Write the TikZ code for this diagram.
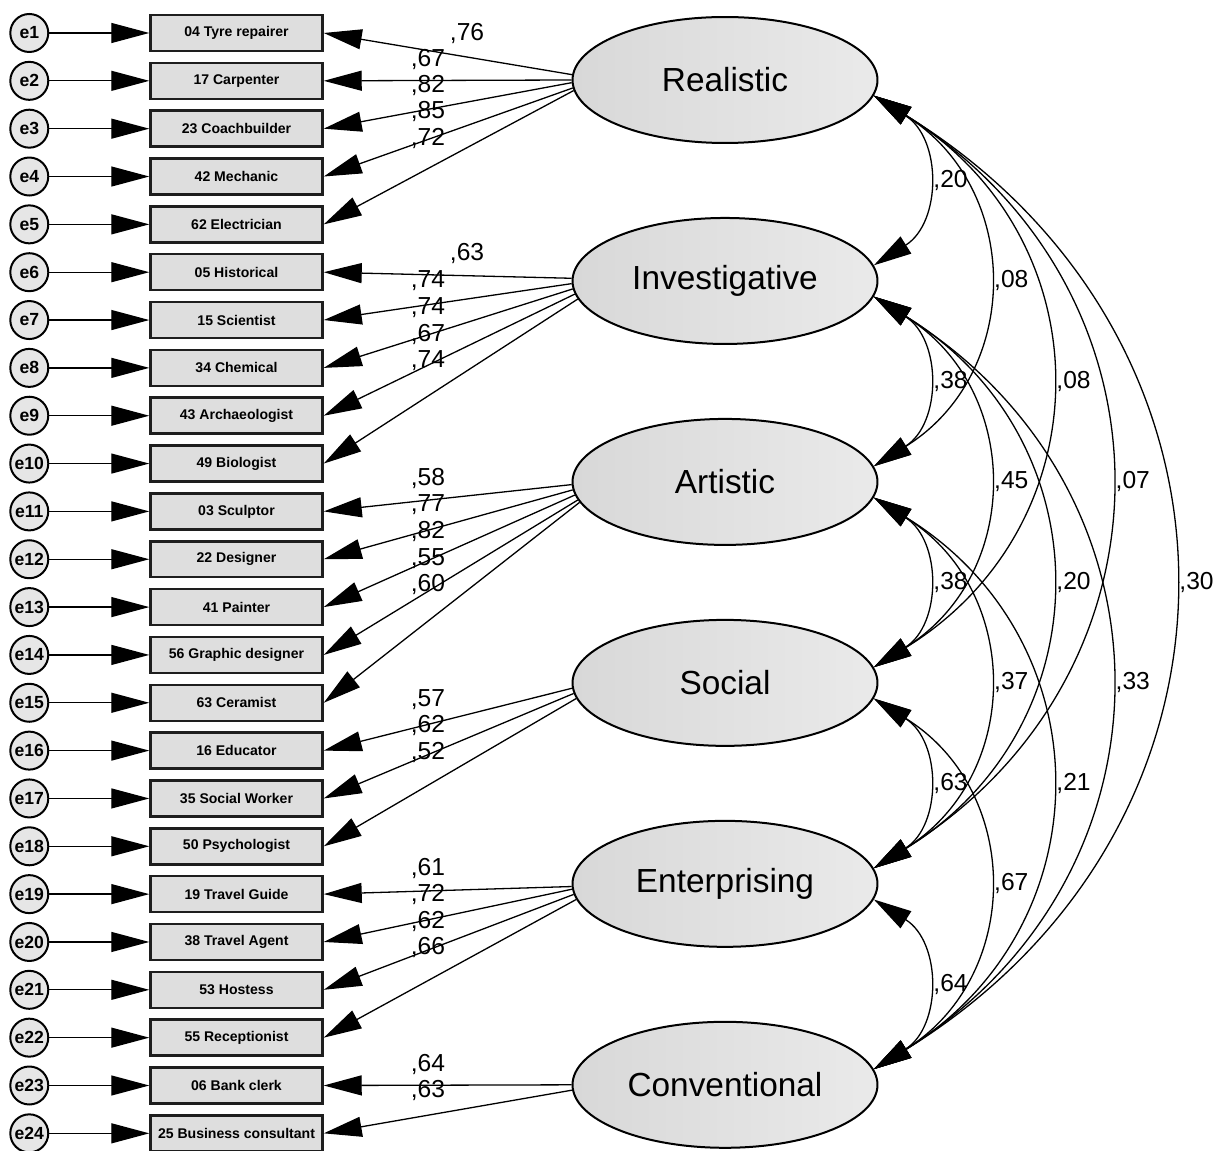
\documentclass[tikz,border=0pt]{standalone}
\usepackage{fontspec}
\setmainfont{Liberation Sans}
\usetikzlibrary{positioning, arrows.meta, shapes.geometric}
\definecolor{AmosBlack}{RGB}{0, 0, 0}
\definecolor{AmosDark}{RGB}{30, 30, 30}
\definecolor{AmosBoxGray}{RGB}{222, 222, 222}
\definecolor{AmosLatentDark}{RGB}{216, 216, 216}
\definecolor{AmosLatentLight}{RGB}{234, 234, 234}
\definecolor{AmosErrorGray}{RGB}{230, 230, 230}

\begin{document}
\begin{tikzpicture}[
    % Global Styles
    x=0.02cm, y=-0.02cm,
    node distance=0.187cm,
    item/.style={
        rectangle,
        draw=AmosDark,         % heavy frame
        line width=0.05cm,
        fill=AmosBoxGray,
        minimum width=3.44cm,
        minimum height=0.72cm,
        inner sep=0pt,
        font=\fontsize{8}{9}\selectfont\bfseries
    },
    latent/.style={
        ellipse,
        draw=AmosBlack,
        line width=0.04cm,
        left color=AmosLatentDark,   % soft grey gradient
        right color=AmosLatentLight,
        minimum width=6.1cm,
        minimum height=2.52cm,
        font=\fontsize{19}{22}\selectfont
    },
    err/.style={
        circle,
        draw=AmosBlack,
        line width=0.04cm,
        fill=AmosErrorGray,
        minimum size=0.76cm,
        inner sep=0pt,
        font=\fontsize{10}{12}\selectfont\bfseries
    },
    arrow/.style={
        -{Triangle[length=0.76cm, width=0.4cm]},
        line width=0.026cm,
        draw=AmosBlack
    },
    cov_arrow/.style={
        {Triangle[length=0.76cm, width=0.4cm]}-{Triangle[length=0.76cm, width=0.4cm]},
        line width=0.026cm,
        draw=AmosBlack
    },
    coef_text/.style={
        font=\fontsize{14}{16}\selectfont,
        inner sep=0pt,
        anchor=base
    },
    cov_text/.style={
        font=\fontsize{14}{16}\selectfont,
        inner sep=0pt,
        anchor=west,
        xshift=0.16cm
    }
]
    \useasboundingbox (0,0) rectangle (1222,1151);

    % --- Latent factors (right column) ---
    \node[latent] (real) at (725,80) {Realistic};
    \node[latent, below=1.46cm of real] (inv) {Investigative};
    \node[latent, below=1.46cm of inv] (art) {Artistic};
    \node[latent, below=1.46cm of art] (soc) {Social};
    \node[latent, below=1.46cm of soc] (ent) {Enterprising};
    \node[latent, below=1.46cm of ent] (conv) {Conventional};

    % --- Observed items (stacked column) ---
    \node[item] (tyre) at (236.5,33) {04 Tyre repairer};
    \node[item, below=of tyre] (carpenter) {17 Carpenter};
    \node[item, below=of carpenter] (coach) {23 Coachbuilder};
    \node[item, below=of coach] (mechanic) {42 Mechanic};
    \node[item, below=of mechanic] (electrician) {62 Electrician};
    \node[item, below=of electrician] (historical) {05 Historical};
    \node[item, below=of historical] (scientist) {15 Scientist};
    \node[item, below=of scientist] (chemical) {34 Chemical};
    \node[item, below=of chemical] (archaeo) {43 Archaeologist};
    \node[item, below=of archaeo] (biologist) {49 Biologist};
    \node[item, below=of biologist] (sculptor) {03 Sculptor};
    \node[item, below=of sculptor] (designer) {22 Designer};
    \node[item, below=of designer] (painter) {41 Painter};
    \node[item, below=of painter] (graphic) {56 Graphic designer};
    \node[item, below=of graphic] (ceramist) {63 Ceramist};
    \node[item, below=of ceramist] (educator) {16 Educator};
    \node[item, below=of educator] (socialwork) {35 Social Worker};
    \node[item, below=of socialwork] (psycho) {50 Psychologist};
    \node[item, below=of psycho] (guide) {19 Travel Guide};
    \node[item, below=of guide] (agent) {38 Travel Agent};
    \node[item, below=of agent] (hostess) {53 Hostess};
    \node[item, below=of hostess] (reception) {55 Receptionist};
    \node[item, below=of reception] (bank) {06 Bank clerk};
    \node[item, below=of bank] (consultant) {25 Business consultant};

    % --- Error terms (far left) ---
    \node[err, left=2cm of tyre] (e1) {e1};
    \node[err, left=2cm of carpenter] (e2) {e2};
    \node[err, left=2cm of coach] (e3) {e3};
    \node[err, left=2cm of mechanic] (e4) {e4};
    \node[err, left=2cm of electrician] (e5) {e5};
    \node[err, left=2cm of historical] (e6) {e6};
    \node[err, left=2cm of scientist] (e7) {e7};
    \node[err, left=2cm of chemical] (e8) {e8};
    \node[err, left=2cm of archaeo] (e9) {e9};
    \node[err, left=2cm of biologist] (e10) {e10};
    \node[err, left=2cm of sculptor] (e11) {e11};
    \node[err, left=2cm of designer] (e12) {e12};
    \node[err, left=2cm of painter] (e13) {e13};
    \node[err, left=2cm of graphic] (e14) {e14};
    \node[err, left=2cm of ceramist] (e15) {e15};
    \node[err, left=2cm of educator] (e16) {e16};
    \node[err, left=2cm of socialwork] (e17) {e17};
    \node[err, left=2cm of psycho] (e18) {e18};
    \node[err, left=2cm of guide] (e19) {e19};
    \node[err, left=2cm of agent] (e20) {e20};
    \node[err, left=2cm of hostess] (e21) {e21};
    \node[err, left=2cm of reception] (e22) {e22};
    \node[err, left=2cm of bank] (e23) {e23};
    \node[err, left=2cm of consultant] (e24) {e24};

    % --- Error arrows ---
    \draw[arrow] (e1) -- (tyre);
    \draw[arrow] (e2) -- (carpenter);
    \draw[arrow] (e3) -- (coach);
    \draw[arrow] (e4) -- (mechanic);
    \draw[arrow] (e5) -- (electrician);
    \draw[arrow] (e6) -- (historical);
    \draw[arrow] (e7) -- (scientist);
    \draw[arrow] (e8) -- (chemical);
    \draw[arrow] (e9) -- (archaeo);
    \draw[arrow] (e10) -- (biologist);
    \draw[arrow] (e11) -- (sculptor);
    \draw[arrow] (e12) -- (designer);
    \draw[arrow] (e13) -- (painter);
    \draw[arrow] (e14) -- (graphic);
    \draw[arrow] (e15) -- (ceramist);
    \draw[arrow] (e16) -- (educator);
    \draw[arrow] (e17) -- (socialwork);
    \draw[arrow] (e18) -- (psycho);
    \draw[arrow] (e19) -- (guide);
    \draw[arrow] (e20) -- (agent);
    \draw[arrow] (e21) -- (hostess);
    \draw[arrow] (e22) -- (reception);
    \draw[arrow] (e23) -- (bank);
    \draw[arrow] (e24) -- (consultant);

    % --- Factor loadings ---
    % Realistic
    \draw[arrow] (real.178) -- (tyre.east) node[coef_text] at (467,40.5) {,76};
    \draw[arrow] (real.180) -- (carpenter.east) node[coef_text] at (428,66.5) {,67};
    \draw[arrow] (real.181.5) -- (coach.east) node[coef_text] at (428,92.5) {,82};
    \draw[arrow] (real.183) -- (mechanic.east) node[coef_text] at (428,118.5) {,85};
    \draw[arrow] (real.184) -- (electrician.east) node[coef_text] at (428,145.5) {,72};
    % Investigative
    \draw[arrow] (inv.179) -- (historical.east) node[coef_text] at (467,260.5) {,63};
    \draw[arrow] (inv.181) -- (scientist.east) node[coef_text] at (428,287.5) {,74};
    \draw[arrow] (inv.183) -- (chemical.east) node[coef_text] at (428,314.5) {,74};
    \draw[arrow] (inv.185) -- (archaeo.east) node[coef_text] at (428,341.5) {,67};
    \draw[arrow] (inv.187) -- (biologist.east) node[coef_text] at (428,367.5) {,74};
    % Artistic
    \draw[arrow] (art.181) -- (sculptor.east) node[coef_text] at (428,485.5) {,58};
    \draw[arrow] (art.183.5) -- (designer.east) node[coef_text] at (428,511.5) {,77};
    \draw[arrow] (art.185.5) -- (painter.east) node[coef_text] at (428,538.5) {,82};
    \draw[arrow] (art.187) -- (graphic.east) node[coef_text] at (428,565.5) {,55};
    \draw[arrow] (art.188.5) -- (ceramist.east) node[coef_text] at (428,591.5) {,60};
    % Social
    \draw[arrow] (soc.182) -- (educator.east) node[coef_text] at (428,706.5) {,57};
    \draw[arrow] (soc.184) -- (socialwork.east) node[coef_text] at (428,732.5) {,62};
    \draw[arrow] (soc.186) -- (psycho.east) node[coef_text] at (428,759.5) {,52};
    % Enterprising
    \draw[arrow] (ent.181) -- (guide.east) node[coef_text] at (428,875.5) {,61};
    \draw[arrow] (ent.182) -- (agent.east) node[coef_text] at (428,901.5) {,72};
    \draw[arrow] (ent.184) -- (hostess.east) node[coef_text] at (428,928.5) {,62};
    \draw[arrow] (ent.186.5) -- (reception.east) node[coef_text] at (428,954.5) {,66};
    % Conventional
    \draw[arrow] (conv.180) -- (bank.east) node[coef_text] at (428,1071.5) {,64};
    \draw[arrow] (conv.182) -- (consultant.east) node[coef_text] at (428,1097.5) {,63};

    % --- Factor covariances (right side arcs) ---
    % neighbours
    \draw[cov_arrow] (real.-6) .. controls +(68,43) and +(68,-43) .. (inv.6) node[cov_text, pos=0.5] {,20};
    \draw[cov_arrow] (inv.-6) .. controls +(68,43) and +(68,-43) .. (art.6) node[cov_text, pos=0.5] {,38};
    \draw[cov_arrow] (art.-6) .. controls +(68,43) and +(68,-43) .. (soc.6) node[cov_text, pos=0.5] {,38};
    \draw[cov_arrow] (soc.-6) .. controls +(68,43) and +(68,-43) .. (ent.6) node[cov_text, pos=0.5] {,63};
    \draw[cov_arrow] (ent.-6) .. controls +(68,43) and +(68,-43) .. (conv.6) node[cov_text, pos=0.5] {,64};
    % two apart
    \draw[cov_arrow] (real.-6) .. controls +(149,93) and +(149,-93) .. (art.6) node[cov_text, pos=0.5] {,08};
    \draw[cov_arrow] (inv.-6) .. controls +(149,93) and +(149,-93) .. (soc.6) node[cov_text, pos=0.5] {,45};
    \draw[cov_arrow] (art.-6) .. controls +(149,93) and +(149,-93) .. (ent.6) node[cov_text, pos=0.5] {,37};
    \draw[cov_arrow] (soc.-6) .. controls +(149,93) and +(149,-93) .. (conv.6) node[cov_text, pos=0.5] {,67};
    % three apart
    \draw[cov_arrow] (real.-6) .. controls +(232,143) and +(232,-143) .. (soc.6) node[cov_text, pos=0.5] {,08};
    \draw[cov_arrow] (inv.-6) .. controls +(232,143) and +(232,-143) .. (ent.6) node[cov_text, pos=0.5] {,20};
    \draw[cov_arrow] (art.-6) .. controls +(232,143) and +(232,-143) .. (conv.6) node[cov_text, pos=0.5] {,21};
    % four and five apart
    \draw[cov_arrow] (real.-6) .. controls +(311,194) and +(311,-194) .. (ent.6) node[cov_text, pos=0.5] {,07};
    \draw[cov_arrow] (inv.-6) .. controls +(311,194) and +(311,-194) .. (conv.6) node[cov_text, pos=0.5] {,33};
    \draw[cov_arrow] (real.-6) .. controls +(396,244) and +(396,-244) .. (conv.6) node[cov_text, pos=0.5] {,30};

\end{tikzpicture}
\end{document}
